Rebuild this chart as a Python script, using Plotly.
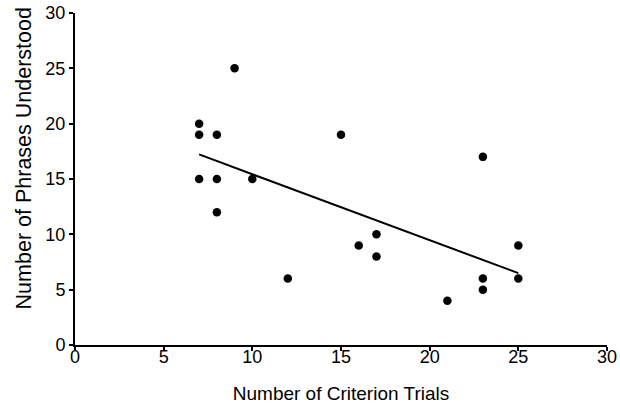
import numpy as np
import plotly.graph_objects as go

criterion_trials = [7, 7, 7, 8, 8, 8, 9, 10, 12, 15, 16, 17, 17, 21, 23, 23, 23, 25, 25]
phrases_understood = [20, 19, 15, 19, 15, 12, 25, 15, 6, 19, 9, 10, 8, 4, 17, 6, 5, 9, 6]
tick_vals = [0, 5, 10, 15, 20, 25, 30]

x = np.array(criterion_trials, dtype=float)
y = np.array(phrases_understood, dtype=float)
slope, intercept = np.polyfit(x, y, 1)
fit_x = [x.min(), x.max()]
fit_y = [slope * v + intercept for v in fit_x]

FONT = "Liberation Sans, Arial, sans-serif"

fig = go.Figure()
fig.add_trace(go.Scatter(x=criterion_trials, y=phrases_understood, mode="markers",
                         marker=dict(color="black", size=8.5), showlegend=False))
fig.add_trace(go.Scatter(x=fit_x, y=fit_y, mode="lines",
                         line=dict(color="black", width=2), showlegend=False))

axis_common = dict(range=[0, 30], tickvals=tick_vals, showgrid=False, zeroline=False,
                   showline=True, linecolor="black", linewidth=2, automargin=False,
                   tickfont=dict(family=FONT, size=18, color="black"))

fig.update_layout(
    width=620, height=404,
    margin=dict(l=75, r=13, t=13, b=59),
    paper_bgcolor="white", plot_bgcolor="white",
    xaxis=dict(**axis_common, ticks="", ticklabelstandoff=-6,
               minor=dict(tickvals=tick_vals, ticks="outside", ticklen=4,
                          tickwidth=1.5, tickcolor="black", showgrid=False),
               title=dict(text="Number of Criterion Trials",
                          font=dict(family=FONT, size=19, color="black"), standoff=22)),
    yaxis=dict(**axis_common, ticks="outside", ticklen=4, tickwidth=1.5, tickcolor="black"),
    annotations=[dict(text="Number of Phrases Understood", textangle=-90,
                      xref="paper", yref="paper", x=0, y=0.562, xshift=-51,
                      xanchor="center", yanchor="middle", showarrow=False,
                      font=dict(family=FONT, size=21.5, color="black"))],
)
fig.write_html("out.html")
